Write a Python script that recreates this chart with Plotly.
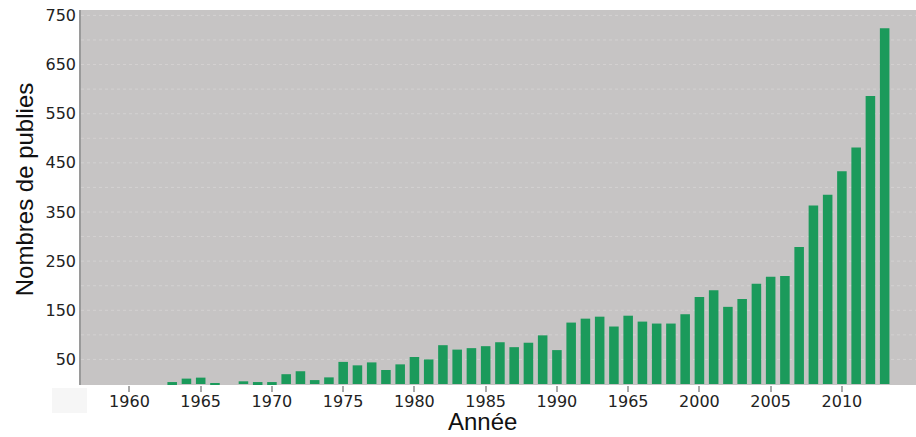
import plotly.graph_objects as go

years = list(range(1963, 2014))
counts = [4, 11, 13, 1.5, 0, 5.5, 4, 4, 20, 26, 8, 13.5, 45, 38, 44, 28.5,
          40, 55, 50, 79, 70, 73, 77, 85, 75, 84, 99, 69, 125, 133, 137, 117,
          139, 127, 123, 123, 142, 177, 191, 157, 173, 204, 218, 220, 279, 363,
          385, 433, 481, 586, 724]

x_tick_vals = [1960, 1965, 1970, 1975, 1980, 1985, 1990, 1995, 2000, 2005, 2010]
x_tick_text = ["1960", "1965", "1970", "1975", "1980", "1985", "1990", "1965", "2000", "2005", "2010"]
y_tick_vals = [50, 150, 250, 350, 450, 550, 650, 750]

fig = go.Figure()
fig.add_trace(go.Bar(x=years, y=counts, width=0.67,
                     marker=dict(color="#1b9a5b", line=dict(width=0))))

fig.update_layout(
    width=916, height=437,
    margin=dict(l=81, r=0, t=10, b=52),
    paper_bgcolor="white",
    plot_bgcolor="#c6c4c4",
    showlegend=False,
    font=dict(family="DejaVu Sans", size=16, color="#222222"),
    xaxis=dict(range=[1956.6, 2015.2], tickmode="array", tickvals=x_tick_vals,
               ticktext=x_tick_text, ticks="outside", ticklen=6, tickwidth=2,
               tickcolor="#aaaaaa", showgrid=False, zeroline=False,
               showline=False, tickfont=dict(size=16), ticklabelstandoff=-4),
    yaxis=dict(range=[-2, 761], tickmode="array", tickvals=y_tick_vals,
               showgrid=False, zeroline=False, showline=True,
               linecolor="#9a9a9a", linewidth=1.5, ticks="", ticklen=0,
               tickfont=dict(size=16)),
    shapes=[
        dict(type="rect", xref="paper", yref="paper", x0=-0.0347, x1=0.0072,
             y0=-0.0747, y1=-0.008, fillcolor="#f6f6f6", line=dict(width=0),
             layer="below"),
    ] + [
        dict(type="line", xref="paper", yref="y", x0=0, x1=1, y0=v, y1=v,
             line=dict(color="#d3d1d1", width=1, dash="dot"), layer="below")
        for v in range(50, 800, 50)
    ],
    annotations=[
        dict(text="Nombres de publies", xref="paper", yref="paper",
             x=-0.068, y=0.52, textangle=-90, showarrow=False,
             font=dict(family="Liberation Sans", size=24, color="#111111"),
             xanchor="center", yanchor="middle"),
        dict(text="Année", xref="paper", yref="paper",
             x=0.481, y=-0.1387, showarrow=False,
             font=dict(family="Liberation Sans", size=24, color="#111111"),
             xanchor="center", yanchor="bottom"),
    ],
)

fig.write_html("out.html",
               config={"displayModeBar": False},
               post_script="document.body.style.margin='0';document.body.style.overflow='hidden';")
